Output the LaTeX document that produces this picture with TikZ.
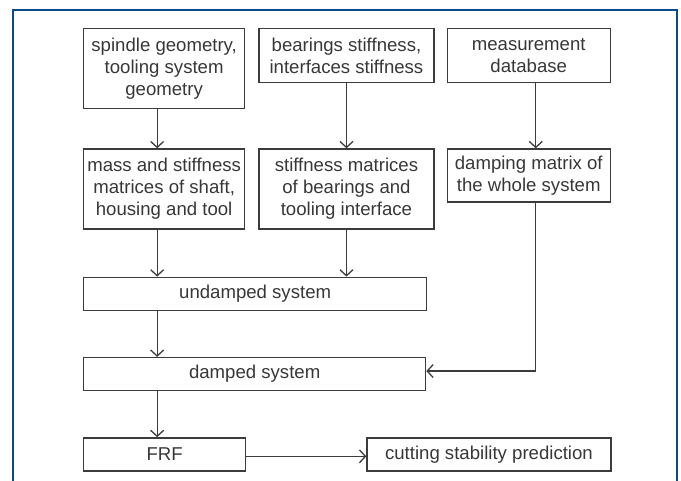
\documentclass[tikz,border=0pt]{standalone}
\usepackage{fontspec}
\setmainfont{Liberation Sans}
\usetikzlibrary{arrows.meta, positioning}

\definecolor{framec}{RGB}{12,74,140}
\definecolor{linec}{RGB}{60,60,60}
\definecolor{txtc}{RGB}{55,55,55}

\begin{document}
\begin{tikzpicture}[>={Straight Barb[length=6pt,width=13pt]}, font=\fontsize{18.6}{22}\selectfont]
  \tikzset{
    box/.style={rectangle, draw=linec, line width=1.3pt, text=txtc, align=center, inner sep=0pt},
    flow/.style={draw=linec, line width=1.3pt, ->}
  }

  \useasboundingbox (0pt,0pt) rectangle (681pt,-480pt);
  \draw[framec, line width=2.6pt] (13pt,-10pt) rectangle (677pt,-495pt);

  \node[box, minimum width=161pt, minimum height=80pt, anchor=north west] (sg) at (83pt,-28pt)
    {spindle geometry,\\tooling system\\geometry};
  \node[box, minimum width=175pt, minimum height=54pt] (bs) [right=13pt of sg.north east, anchor=north west]
    {bearings stiffness,\\interfaces stiffness};
  \node[box, minimum width=163pt, minimum height=54pt] (md) [right=12pt of bs.north east, anchor=north west]
    {measurement\\database};

  \node[box, minimum width=161pt, minimum height=80pt] (ms) [below=39pt of sg.south west, anchor=north west]
    {mass and stiffness\\matrices of shaft,\\housing and tool};
  \node[box, minimum width=175pt, minimum height=80pt] (sm) [below=65pt of bs.south west, anchor=north west]
    {stiffness matrices\\of bearings and\\tooling interface};
  \node[box, minimum width=163pt, minimum height=53pt] (dm) [below=65pt of md.south west, anchor=north west]
    {damping matrix of\\the whole system};

  \node[box, minimum width=343pt, minimum height=33pt] (us) [below=47pt of ms.south west, anchor=north west]
    {undamped system};
  \node[box, minimum width=342pt, minimum height=33pt] (ds) [below=46pt of us.south west, anchor=north west]
    {damped system};
  \node[box, minimum width=162pt, minimum height=33pt] (frf) [below=46pt of ds.south west, anchor=north west]
    {FRF};
  \node[box, minimum width=244pt, minimum height=33pt] (csp) [right=120pt of frf]
    {cutting stability prediction};

  \draw[flow] ([xshift=-7pt]sg.south) -- ([xshift=-7pt]ms.north);
  \draw[flow] (bs) -- (sm);
  \draw[flow] ([xshift=7pt]md.south) -- ([xshift=7pt]dm.north);

  \draw[flow] ([xshift=-7pt]ms.south) -- ([xshift=-7pt]ms.south |- us.north);
  \draw[flow] (sm.south) -- (sm.south |- us.north);
  \draw[flow] ([xshift=-7pt]ms.south |- us.south) -- ([xshift=-7pt]ms.south |- ds.north);
  \draw[flow] ([xshift=7pt]dm.south) |- ([yshift=3pt]ds.east);

  \draw[flow] ([xshift=-7pt]ms.south |- ds.south) -- ([xshift=-7pt]ms.south |- frf.north);
  \draw[flow] ([yshift=-2pt]frf.east) -- ([yshift=-2pt]csp.west);

\end{tikzpicture}
\end{document}
